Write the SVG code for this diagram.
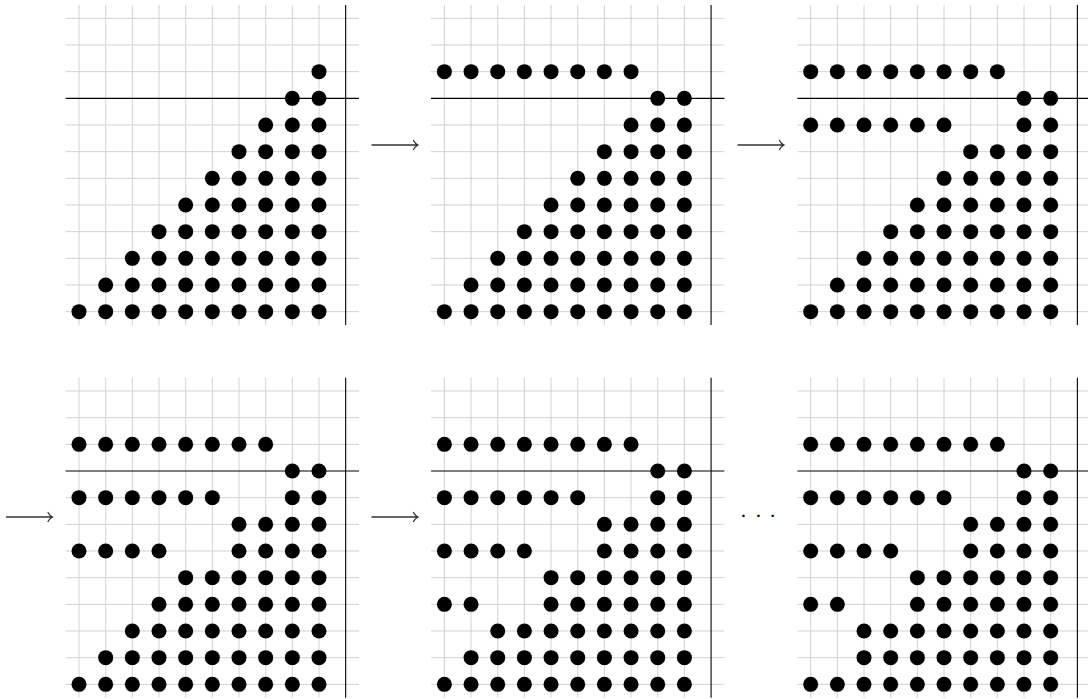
<svg xmlns="http://www.w3.org/2000/svg" xmlns:xlink="http://www.w3.org/1999/xlink" width="1088" height="699" viewBox="0 0 1088 699">
<style>
.g{stroke:#d2d2d2;stroke-width:1;fill:none}
.ax{stroke:#000;stroke-width:1.1;fill:none}
.dots{fill:#000}
.arr{stroke:#333;stroke-width:1.3;fill:none;stroke-linecap:round}
.t{font-family:"Liberation Serif",serif;font-size:22px;fill:#000;text-anchor:middle}
</style>
<defs>
<g id="grid">
<path class="g" d="M0-13.33V306.67M26.67-13.33V306.67M53.33-13.33V306.67M80-13.33V306.67M106.67-13.33V306.67M133.33-13.33V306.67M160-13.33V306.67M186.67-13.33V306.67M213.33-13.33V306.67M240-13.33V306.67"/>
<path class="g" d="M-13.33 0H280M-13.33 26.67H280M-13.33 53.33H280M-13.33 106.67H280M-13.33 133.33H280M-13.33 160H280M-13.33 186.67H280M-13.33 213.33H280M-13.33 240H280M-13.33 266.67H280M-13.33 293.33H280"/>
<path class="ax" d="M-13.33 80H280M266.67-13.33V306.67"/>
</g>
<circle id="d" r="7.5"/>
<g id="s9"><use href="#d" x="240"/></g>
<g id="s8"><use href="#d" x="213.33"/><use href="#s9"/></g>
<g id="s7"><use href="#d" x="186.67"/><use href="#s8"/></g>
<g id="s6"><use href="#d" x="160"/><use href="#s7"/></g>
<g id="s5"><use href="#d" x="133.33"/><use href="#s6"/></g>
<g id="s4"><use href="#d" x="106.67"/><use href="#s5"/></g>
<g id="s3"><use href="#d" x="80"/><use href="#s4"/></g>
<g id="s2"><use href="#d" x="53.33"/><use href="#s3"/></g>
<g id="s1"><use href="#d" x="26.67"/><use href="#s2"/></g>
<g id="s0"><use href="#d" x="0"/><use href="#s1"/></g>
<g id="p2"><use href="#d" x="0"/><use href="#d" x="26.67"/></g>
<g id="p4"><use href="#p2"/><use href="#d" x="53.33"/><use href="#d" x="80"/></g>
<g id="p6"><use href="#p4"/><use href="#d" x="106.67"/><use href="#d" x="133.33"/></g>
<g id="p8"><use href="#p6"/><use href="#d" x="160"/><use href="#d" x="186.67"/></g>
<g id="base">
<use href="#s8" y="80"/>
<use href="#s4" y="186.67"/>
<use href="#s2" y="240"/>
<use href="#s0" y="293.33"/>
</g>
</defs>

<g id="panel1" transform="translate(79,18.33)">
<use href="#grid"/>
<g class="dots">
<use href="#base"/>
<use href="#s9" y="53.33"/>
<use href="#s7" y="106.67"/>
<use href="#s6" y="133.33"/>
<use href="#s5" y="160"/>
<use href="#s3" y="213.33"/>
<use href="#s1" y="266.67"/>
</g>
</g>

<g id="panel2" transform="translate(444.4,18.33)">
<use href="#grid"/>
<g class="dots">
<use href="#base"/>
<use href="#p8" y="53.33"/>
<use href="#s7" y="106.67"/>
<use href="#s6" y="133.33"/>
<use href="#s5" y="160"/>
<use href="#s3" y="213.33"/>
<use href="#s1" y="266.67"/>
</g>
</g>

<g id="panel3" transform="translate(810.7,18.33)">
<use href="#grid"/>
<g class="dots">
<use href="#base"/>
<use href="#p8" y="53.33"/>
<use href="#p6" y="106.67"/><use href="#s8" y="106.67"/>
<use href="#s6" y="133.33"/>
<use href="#s5" y="160"/>
<use href="#s3" y="213.33"/>
<use href="#s1" y="266.67"/>
</g>
</g>

<g id="panel4" transform="translate(79,391)">
<use href="#grid"/>
<g class="dots">
<use href="#base"/>
<use href="#p8" y="53.33"/>
<use href="#p6" y="106.67"/><use href="#s8" y="106.67"/>
<use href="#s6" y="133.33"/>
<use href="#p4" y="160"/><use href="#s6" y="160"/>
<use href="#s3" y="213.33"/>
<use href="#s1" y="266.67"/>
</g>
</g>

<g id="panel5" transform="translate(444.4,391)">
<use href="#grid"/>
<g class="dots">
<use href="#base"/>
<use href="#p8" y="53.33"/>
<use href="#p6" y="106.67"/><use href="#s8" y="106.67"/>
<use href="#s6" y="133.33"/>
<use href="#p4" y="160"/><use href="#s6" y="160"/>
<use href="#p2" y="213.33"/><use href="#s4" y="213.33"/>
<use href="#s1" y="266.67"/>
</g>
</g>

<g id="panel6" transform="translate(810.7,391)">
<use href="#grid"/>
<g class="dots">
<use href="#base"/>
<use href="#p8" y="53.33"/>
<use href="#p6" y="106.67"/><use href="#s8" y="106.67"/>
<use href="#s6" y="133.33"/>
<use href="#p4" y="160"/><use href="#s6" y="160"/>
<use href="#p2" y="213.33"/><use href="#s4" y="213.33"/>
<use href="#s2" y="266.67"/>
</g>
</g>

<g id="connectors">
<path class="arr" d="M372 145H418M413.5 140.5Q415 143.5 418 145Q415 146.5 413.5 149.5"/>
<path class="arr" d="M738 145H784M779.5 140.5Q781 143.5 784 145Q781 146.5 779.5 149.5"/>
<path class="arr" d="M6.5 517H52.5M48 512.5Q49.5 515.5 52.5 517Q49.5 518.5 48 521.5"/>
<path class="arr" d="M372 517H418M413.5 512.5Q415 515.5 418 517Q415 518.5 413.5 521.5"/>
</g>
<text class="t" y="523"><tspan x="743.3">·</tspan><tspan x="758.3">·</tspan><tspan x="772.7">·</tspan></text>
</svg>
